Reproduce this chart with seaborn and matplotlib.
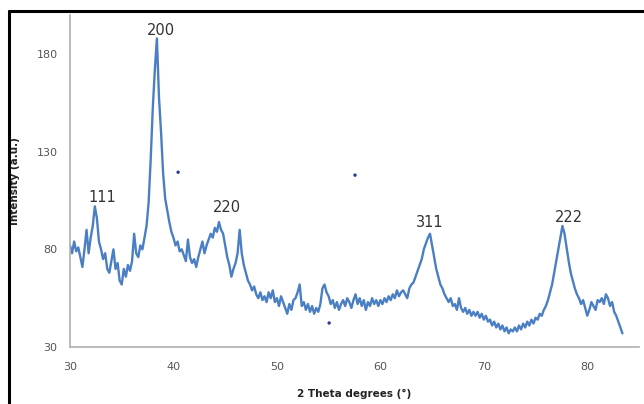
import numpy as np
import pandas as pd
import matplotlib
matplotlib.use('Agg')
import matplotlib.pyplot as plt
from matplotlib.lines import Line2D
import seaborn as sns

# ===================== DATA =====================
# 2 theta grid, 0.2 deg steps from 30.0 to 83.4
two_theta = np.round(np.linspace(30.0, 83.4, 268), 1)

intensity = [
    82, 78, 84, 79, 81, 76,            # 30.0 - 31.0
    71, 80, 90, 78, 86,                # 31.2 - 32.0
    92, 102, 96, 84, 80,               # 32.2 - 33.0
    75, 78, 70, 68, 74,
    80, 70, 73, 64, 62,
    70, 66, 72, 69, 74,
    88, 78, 76, 82, 80,
    86, 92, 104, 126, 152,             # 37.2 - 38.0
    172, 188, 158, 140, 119,           # 38.2 - 39.0
    106, 100, 94, 89, 86,
    82, 84, 79, 80, 77,
    74, 85, 76, 73, 75,
    71, 76, 80, 84, 78,
    82, 85, 88, 86, 91,
    89, 94, 90, 88, 82,                # 44.2 - 45.0
    76, 72, 66, 70, 73,
    78, 90, 78, 72, 68,
    64, 62, 59, 61, 57,
    55, 58, 54, 56, 53,
    58, 55, 59, 53, 55,                # 49.2 - 50.0
    51, 56, 53, 50, 47,
    52, 49, 54, 55, 58,
    62, 51, 53, 49, 52,
    48, 51, 47, 50, 48,
    52, 60, 62, 58, 56,                # 54.2 - 55.0
    52, 54, 50, 53, 49,
    52, 54, 51, 55, 53,
    50, 54, 57, 52, 55,
    51, 54, 49, 53, 51,
    55, 52, 54, 51, 54,                # 59.2 - 60.0
    52, 55, 53, 56, 54,
    57, 55, 59, 56, 58,
    59, 57, 55, 60, 62,
    63, 66, 69, 72, 75,
    80, 83, 86, 88, 82,                # 64.2 - 65.0
    76, 70, 66, 62, 60,
    57, 55, 53, 55, 51,
    52, 49, 55, 50, 48,
    50, 47, 49, 46, 48,
    46, 48, 45, 47, 44,                # 69.2 - 70.0
    46, 43, 44, 41, 43,
    40, 42, 39, 41, 38,
    40, 37, 39, 38, 40,
    38, 41, 39, 42, 40,
    43, 41, 44, 42, 45,                # 74.2 - 75.0
    44, 47, 46, 49, 51,
    54, 58, 62, 68, 74,
    80, 86, 92, 88, 81,                # 77.2 - 78.0
    74, 68, 64, 60, 57,
    55, 52, 54, 50, 46,                # 79.2 - 80.0
    49, 53, 51, 49, 54,
    53, 55, 52, 57, 55,
    51, 53, 48, 46, 43,                # 82.2 - 83.0
    40, 37,
]

# stray marker dots in the original figure
dot_x = [40.45, 57.55, 55.05]
dot_y = [119.5, 118.0, 42.3]

# peak labels (hkl)
peak_labels = ['111', '200', '220', '311', '222']
peak_x = [33.1, 38.8, 45.2, 64.8, 78.2]
peak_y = [106.5, 192.0, 101.5, 94.0, 96.5]

xticks = [30, 40, 50, 60, 70, 80]
yticks = [30, 80, 130, 180]

df = pd.DataFrame({'two_theta': two_theta, 'intensity': intensity})

# ===================== PLOT =====================
sns.set_style('white')
plt.rcParams['font.family'] = ['DejaVu Sans']

fig = plt.figure(figsize=(6.44, 4.04), dpi=100)
ax = fig.add_axes([70 / 644, 1 - 347 / 404, 569 / 644, 332 / 404])

sns.lineplot(data=df, x='two_theta', y='intensity', ax=ax,
             color='#4a7fc4', linewidth=1.7)
sns.scatterplot(x=dot_x, y=dot_y, ax=ax, color='#2e3b8f', s=6,
                edgecolor='none')

for lab, px, py in zip(peak_labels, peak_x, peak_y):
    ax.text(px, py, lab, ha='center', va='center', fontsize=10.5,
            color='#333333')

ax.set_xlim(30, 85)
ax.set_ylim(30, 200)
ax.set_xticks(xticks)
ax.set_yticks(yticks)
ax.tick_params(axis='both', labelsize=8, colors='#555555', length=3,
               width=0.8, direction='out')
ax.tick_params(axis='x', pad=8)
ax.tick_params(axis='y', pad=6)

for side in ['top', 'right']:
    ax.spines[side].set_visible(False)
for side in ['left', 'bottom']:
    ax.spines[side].set_color('#b0b0b0')
    ax.spines[side].set_linewidth(1.2)

ax.set_xlabel('2 Theta degrees (°)', fontsize=7.5, fontweight='bold',
              color='#222222', labelpad=12)
ax.set_ylabel('Intensity (a.u.)', fontsize=7.5, fontweight='bold',
              color='#222222', labelpad=12)

# black frame at the top and left edge of the original screenshot
fig.add_artist(Line2D([9 / 644, 1], [1 - 11 / 404, 1 - 11 / 404],
                      color='black', linewidth=2.2))
fig.add_artist(Line2D([9 / 644, 9 / 644], [0, 1 - 11 / 404],
                      color='black', linewidth=2.2))

fig.savefig('out.png', dpi=100)
